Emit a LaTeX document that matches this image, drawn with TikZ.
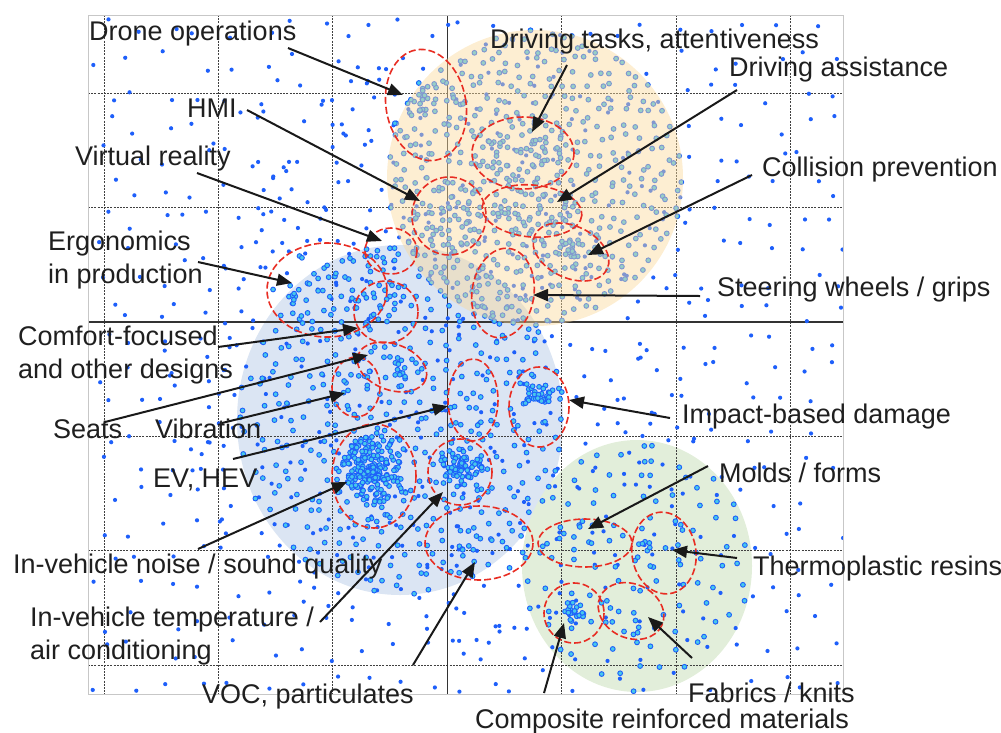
\documentclass[tikz,border=0pt]{standalone}
\usepackage{fontspec}
\setmainfont{Liberation Sans}
\usetikzlibrary{arrows.meta}

\definecolor{dotblue}{RGB}{30,95,250}
\definecolor{dotcyan}{RGB}{70,200,235}
\definecolor{zoneorange}{RGB}{250,217,155}
\definecolor{zoneblue}{RGB}{219,229,243}
\definecolor{zonegreen}{RGB}{226,238,218}
\definecolor{ringred}{RGB}{232,45,35}

%	scatter of dots in an ellipse: cx, cy, rx, ry, count, exponent, style
\newcommand{\dotcloud}[7]{%
	\foreach \k in {1,...,#5}{%
		\pgfmathsetmacro{\da}{360*rnd}%
		\pgfmathsetmacro{\dr}{rnd^#6}%
		\fill[#7] ({#1+#3*\dr*cos(\da)}, {#2+#4*\dr*sin(\da)}) circle;
	}%
}

%	jittered grid of dots in an ellipse: cx, cy, rx, ry, spacing, style
\newcommand{\dotfield}[6]{%
	\pgfmathtruncatemacro{\nx}{#3/#5}%
	\pgfmathtruncatemacro{\ny}{#4/#5}%
	\foreach \i in {-\nx,...,\nx}{%
		\foreach \j in {-\ny,...,\ny}{%
			\pgfmathsetmacro{\px}{\i*#5 + 0.8*#5*(rnd - 0.5)}%
			\pgfmathsetmacro{\py}{\j*#5 + 0.8*#5*(rnd - 0.5)}%
			\pgfmathtruncatemacro{\inside}{(\px/#3)*(\px/#3) + (\py/#4)*(\py/#4) < 1}%
			\ifnum\inside=1 \fill[#6] ({#1+\px}, {#2+\py}) circle;\fi
		}%
	}%
}

\tikzset{
	bluedot/.style = {fill = dotblue, radius = 2.1pt},
	cyandot/.style = {fill = dotcyan, draw = dotblue, line width = 0.9pt, radius = 2.4pt},
	clusterring/.style = {draw = ringred, line width = 1.6pt, dash pattern = on 7pt off 3pt},
	pointer/.style = {-{Triangle[length = 15pt, width = 12pt]}, line width = 2pt, black!90},
	lbl/.style = {anchor = base west, inner sep = 0pt, font = \fontsize{27}{32.5}\selectfont, text = black!88, align = left},
	gridline/.style = {black!75, line width = 0.8pt, dash pattern = on 2pt off 1.2pt},
	mainaxis/.style = {black!80, line width = 1.4pt},
	boxline/.style = {black!22, line width = 1pt}
}

\begin{document}
\begin{tikzpicture}[x = 1pt, y = -1pt]
	\useasboundingbox (0, 0) rectangle (1001, 732);
	
	%	box setup
	\def\xmin{88}
	\def\xmax{843}
	\def\ymin{15}
	\def\ymax{694}
	
	%	zones under the dots
	\fill[zoneblue] (400, 420) ellipse[x radius = 163, y radius = 175];
	\fill[zonegreen] (637, 566) ellipse[x radius = 115, y radius = 126];
	
	%	grid
	\foreach \gx in {104, 218.4, 332.8, 561.6, 676, 790.4}
		\draw[gridline] (\gx, \ymin) -- (\gx, \ymax);
	\foreach \gy in {93, 207.4, 436.2, 550.6, 665}
		\draw[gridline] (\xmin, \gy) -- (\xmax, \gy);
	\draw[mainaxis] (447.2, \ymin) -- (447.2, \ymax);
	\draw[mainaxis] (\xmin, 321.8) -- (\xmax, 321.8);
	
	%	dots
	\pgfmathsetseed{2024}
	\begin{scope}
		\clip (\xmin, \ymin) rectangle (\xmax, \ymax);
		\foreach \i in {0,...,23}
			\foreach \j in {0,...,21}
				\fill[bluedot] ({\xmin + 16 + 32*\i + 24*(rnd - 0.5)}, {\ymin + 16 + 31*\j + 24*(rnd - 0.5)}) circle;
		\dotcloud{440}{330}{290}{320}{260}{0.5}{bluedot}
		\dotfield{535}{178}{148}{148}{13}{cyandot}
		\dotfield{400}{420}{163}{175}{15.5}{cyandot}
		\dotfield{637}{566}{115}{126}{21}{cyandot}
		%	clusters
		\dotcloud{422}{100}{22}{22}{18}{1}{cyandot}
		\dotcloud{426}{105}{38}{54}{14}{0.5}{cyandot}
		\dotcloud{523}{153}{50}{35}{55}{0.5}{cyandot}
		\dotcloud{449}{216}{36}{38}{40}{0.5}{cyandot}
		\dotcloud{532}{211}{48}{25}{35}{0.5}{cyandot}
		\dotcloud{571}{252}{36}{25}{15}{0.5}{cyandot}
		\dotcloud{568}{250}{14}{12}{12}{1}{cyandot}
		\dotcloud{503}{293}{29}{43}{18}{0.5}{cyandot}
		\dotcloud{391}{251}{24}{21}{8}{0.5}{cyandot}
		\dotcloud{327}{290}{58}{45}{35}{0.5}{cyandot}
		\dotcloud{386}{312}{30}{29}{15}{0.5}{cyandot}
		\dotcloud{392}{367}{33}{22}{10}{0.5}{cyandot}
		\dotcloud{400}{372}{10}{8}{8}{1}{cyandot}
		\dotcloud{356}{387}{22}{28}{8}{0.5}{cyandot}
		\dotcloud{473}{400}{23}{39}{10}{0.5}{cyandot}
		\dotcloud{539}{407}{28}{38}{10}{0.5}{cyandot}
		\dotcloud{538}{398}{14}{14}{30}{1}{cyandot}
		\dotcloud{374}{476}{40}{50}{50}{0.5}{cyandot}
		\dotcloud{372}{470}{30}{35}{170}{1}{cyandot}
		\dotcloud{460}{472}{30}{31}{15}{0.5}{cyandot}
		\dotcloud{462}{465}{20}{20}{60}{1}{cyandot}
		\dotcloud{479}{543}{52}{35}{14}{0.5}{cyandot}
		\dotcloud{585}{543}{45}{22}{8}{0.5}{cyandot}
		\dotcloud{664}{553}{30}{39}{10}{0.5}{cyandot}
		\dotcloud{574}{612}{12}{12}{25}{1}{cyandot}
		\dotcloud{631}{611}{30}{28}{8}{0.5}{cyandot}
	\end{scope}
	\draw[boxline] (\xmin, \ymin) rectangle (\xmax, \ymax);
	
	%	zone over the dots
	\fill[zoneorange, fill opacity = 0.45] (535, 178) circle[radius = 148pt];
	
	%	clusters
	\foreach \cx/\cy/\rx/\ry/\rot in {426/105/40/56/10, 523/153/51/36/0, 449/216/37/39/0,
		532/211/50/26/-5, 571/252/40/26/-25, 503/293/31/45/-8, 391/251/26/23/0,
		327/290/60/47/0, 386/312/32/31/0, 392/367/36/23/-20, 356/387/24/30/0,
		473/400/25/41/0, 539/407/30/40/0, 374/476/42/52/0, 460/472/32/33/0,
		479/543/54/37/0, 585/543/47/24/0, 664/553/32/41/8, 574/613/30/30/0,
		631/611/34/27/-25}
		\draw[clusterring, rotate around = {\rot:(\cx, \cy)}] (\cx, \cy) ellipse[x radius = \rx, y radius = \ry];
	
	%	labels (base of a two-line label is its last line)
	\node[lbl] (drone) at (89, 40) {Drone operations};
	\node[lbl] (tasks) at (490, 48) {Driving tasks, attentiveness};
	\node[lbl] (assist) at (729, 76) {Driving assistance};
	\node[lbl] (hmi) at (187, 117) {HMI};
	\node[lbl] (vr) at (75, 165) {Virtual reality};
	\node[lbl] (collision) at (762, 176) {Collision prevention};
	\node[lbl] (ergo) at (48, 283) {Ergonomics\\in production};
	\node[lbl] (steer) at (717, 296) {Steering wheels / grips};
	\node[lbl] (comfort) at (18, 378) {Comfort-focused\\and other designs};
	\node[lbl] (seats) at (53, 438) {Seats};
	\node[lbl] (vibration) at (155, 438) {Vibration};
	\node[lbl] (impact) at (682, 423) {Impact-based damage};
	\node[lbl] (ev) at (153, 487) {EV, HEV};
	\node[lbl] (molds) at (719, 482) {Molds / forms};
	\node[lbl] (noise) at (13, 573) {In-vehicle noise / sound quality};
	\node[lbl] (thermo) at (753, 575) {Thermoplastic resins};
	\node[lbl] (temp) at (30, 659) {In-vehicle temperature /\\air conditioning};
	\node[lbl] (voc) at (202, 703) {VOC, particulates};
	\node[lbl] (fabrics) at (688, 702) {Fabrics / knits};
	\node[lbl] (composite) at (475, 728) {Composite reinforced materials};
	
	%	arrows
	\foreach \n/\tx/\ty/\hx/\hy in {drone/288/48/403/95, hmi/247/110/420/201,
		vr/197/173/382/241, tasks/567/65/532/132, assist/737/90/557/202,
		collision/752/175/588/255, steer/700/296/533/295, ergo/198/262/292/283,
		comfort/218/347/358/328, seats/105/422/368/355, vibration/222/423/345/393,
		ev/233/459/448/406, impact/670/418/569/400, noise/198/549/347/482,
		temp/320/622/443/492, voc/413/665/475/562, molds/708/466/588/529,
		thermo/737/558/672/550, fabrics/692/658/648/617, composite/544/693/564/623}{
		\coordinate (t-\n) at (\tx, \ty);
		\coordinate (h-\n) at (\hx, \hy);
		\draw[pointer] (t-\n) -- (h-\n);
	}
\end{tikzpicture}
\end{document}
